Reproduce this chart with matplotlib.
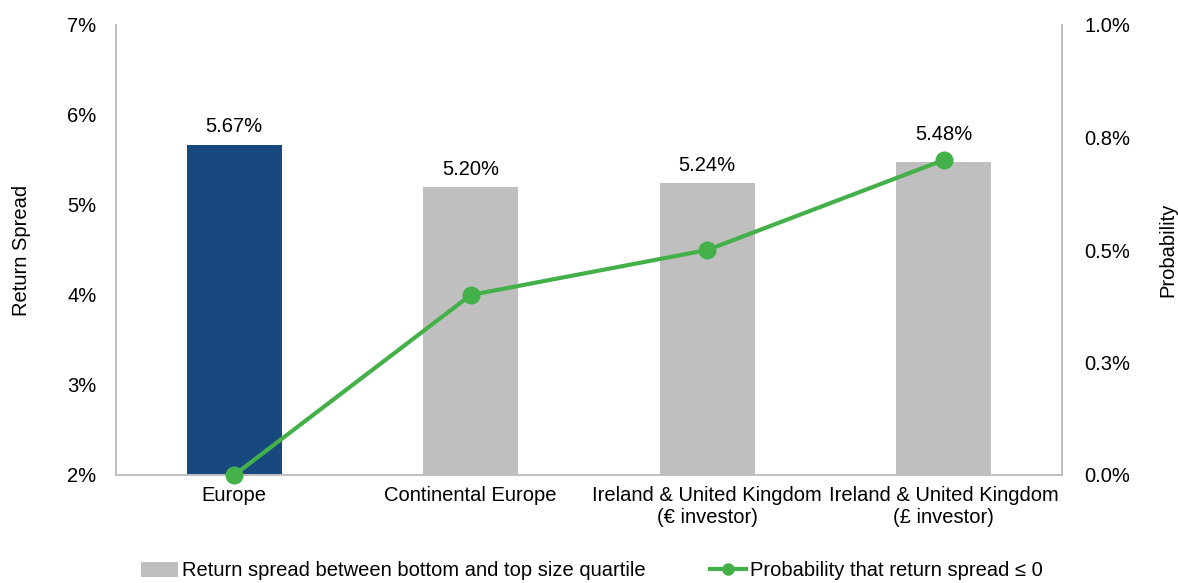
import matplotlib
matplotlib.use("Agg")
import matplotlib.pyplot as plt
from matplotlib.patches import Patch
from matplotlib.lines import Line2D

plt.rcParams['font.family'] = ['Liberation Sans', 'DejaVu Sans']

categories = ["Europe", "Continental Europe", "Ireland & United Kingdom\n(€ investor)",
              "Ireland & United Kingdom\n(£ investor)"]
spread = [5.67, 5.20, 5.24, 5.48]
spread_labels = ["5.67%", "5.20%", "5.24%", "5.48%"]
prob = [0.0, 0.40, 0.50, 0.70]
left_ticks = [2, 3, 4, 5, 6, 7]
left_tick_labels = ["2%", "3%", "4%", "5%", "6%", "7%"]
right_ticks = [0.0, 0.25, 0.5, 0.75, 1.0]
right_tick_labels = ["0.0%", "0.3%", "0.5%", "0.8%", "1.0%"]

navy = "#17497F"
grey = "#BFBFBF"
green = "#44B04A"
spine_c = "#BFBFBF"
fs = 14.5
label_offsets = [6, 6, 6, 13]  # points above bar top

fig = plt.figure(figsize=(11.78, 5.83), dpi=100)
ax = fig.add_axes([116/1178, 1-475/583, (1062-116)/1178, 450/583])
x = list(range(len(categories)))
colors = [navy] + [grey]*(len(categories)-1)
bars = ax.bar(x, [v - 2 for v in spread], bottom=2, width=0.4, color=colors, zorder=2)
for xi, v, lab, off in zip(x, spread, spread_labels, label_offsets):
    ax.annotate(lab, (xi, v), xytext=(0, off), textcoords="offset points",
                ha="center", va="bottom", fontsize=fs, color="#000000")
ax.set_xlim(-0.5, len(categories)-0.5)
ax.set_ylim(2, 7)
ax.set_yticks(left_ticks)
ax.set_yticklabels(left_tick_labels, fontsize=fs)
ax.set_xticks(x)
ax.set_xticklabels(categories, fontsize=fs)
ax.tick_params(axis='y', length=0, pad=14)
ax.tick_params(axis='x', length=0, pad=8)
ax.set_ylabel("Return Spread", fontsize=fs, labelpad=26)
ax.spines['top'].set_visible(False)
for s in ['left', 'bottom', 'right']:
    ax.spines[s].set_color(spine_c)
    ax.spines[s].set_linewidth(1.2)

ax2 = ax.twinx()
ax2.plot(x, prob, color=green, lw=3, marker='o', markersize=12, clip_on=False, zorder=5)
ax2.set_ylim(0, 1.0)
ax2.set_yticks(right_ticks)
ax2.set_yticklabels(right_tick_labels, fontsize=fs)
ax2.tick_params(axis='y', length=0, pad=16)
ax2.set_ylabel("Probability", fontsize=fs, labelpad=20)
ax2.spines['top'].set_visible(False)
for s in ['left', 'bottom', 'right']:
    ax2.spines[s].set_color(spine_c)
    ax2.spines[s].set_linewidth(1.2)

handles = [Patch(facecolor=grey, edgecolor='none'),
           Line2D([0], [0], color=green, lw=3, marker='o', markersize=8)]
labels = ["Return spread between bottom and top size quartile",
          "Probability that return spread ≤ 0"]
fig.legend(handles, labels, loc='center', bbox_to_anchor=(592/1178, 1-571/583),
           ncol=2, frameon=False, fontsize=fs, handlelength=1.8, handletextpad=0.2,
           columnspacing=3.2, handleheight=0.8)

fig.savefig("out.png", dpi=100)
